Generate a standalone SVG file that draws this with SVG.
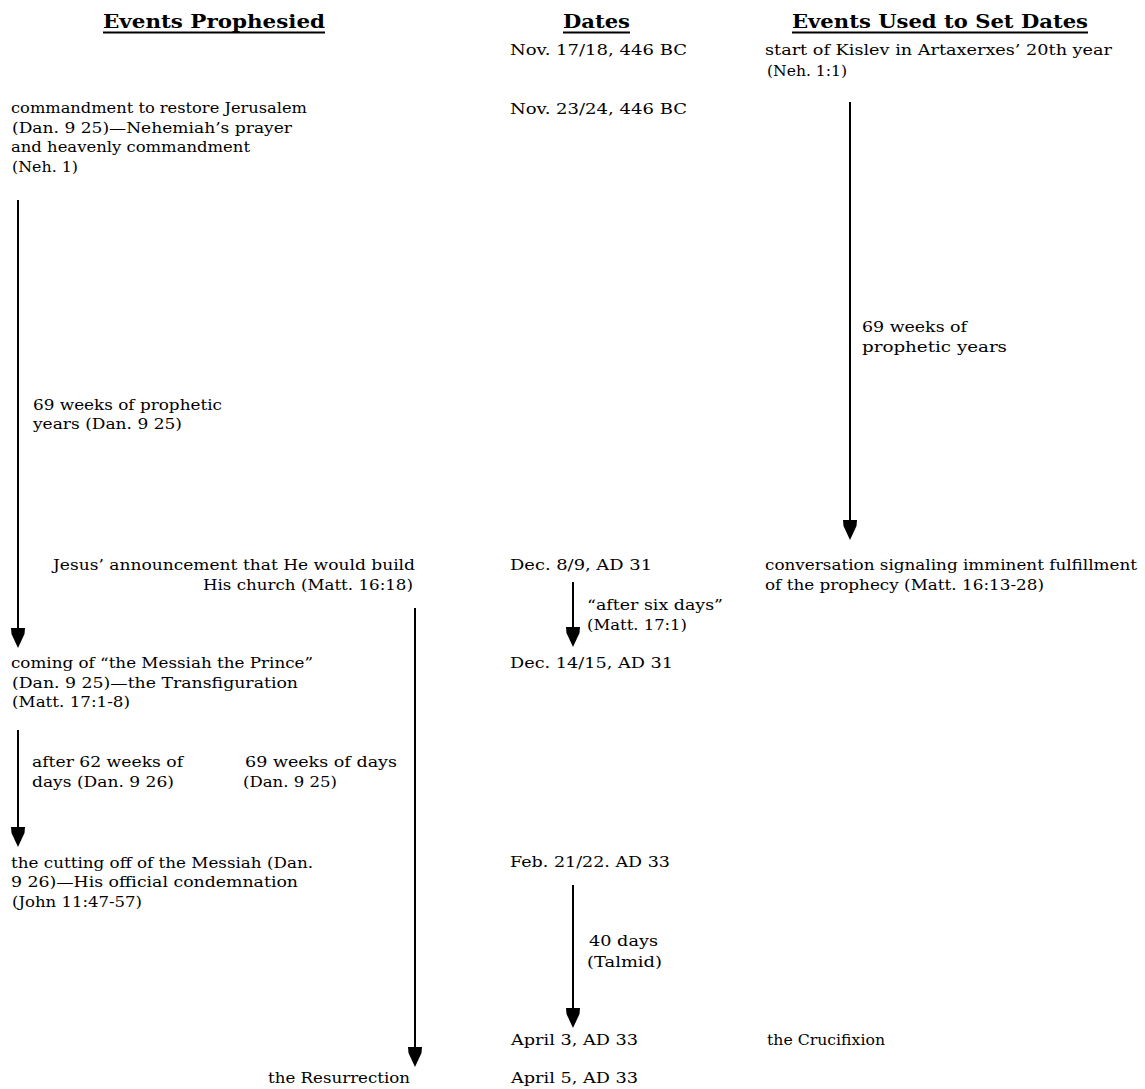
<svg xmlns="http://www.w3.org/2000/svg" width="1145" height="1089" viewBox="0 0 1145 1089">
<style>
text{font-family:"DejaVu Serif","Liberation Serif",serif;font-size:15px;fill:#000}
.h{font-weight:bold;font-size:19px}
.ul{stroke:#000;stroke-width:2}
.c{stroke:#000;stroke-width:2;fill:none;marker-end:url(#ah)}
</style>
<defs>
<marker id="ah" markerUnits="userSpaceOnUse" viewBox="0 -8 21 16" refX="10" refY="0" markerWidth="21" markerHeight="16" orient="auto">
<path d="M0,-7 L6,-6.5 L20,0 L6,6.5 L0,7 Z" fill="#000"/>
</marker>
</defs>
<rect width="1145" height="1089" fill="#fff"/>
<g id="headers">
<text class="h" x="103" y="28" textLength="222" lengthAdjust="spacingAndGlyphs">Events Prophesied</text>
<line class="ul" x1="103" y1="32.5" x2="325" y2="32.5"/>
<text class="h" x="563" y="28" textLength="67" lengthAdjust="spacingAndGlyphs">Dates</text>
<line class="ul" x1="563" y1="32.5" x2="630" y2="32.5"/>
<text class="h" x="792" y="28" textLength="296" lengthAdjust="spacingAndGlyphs">Events Used to Set Dates</text>
<line class="ul" x1="792" y1="32.5" x2="1088" y2="32.5"/>
</g>
<g id="connectors">
<line class="c" x1="18" y1="200" x2="18" y2="638"/>
<line class="c" x1="18" y1="730" x2="18" y2="837"/>
<line class="c" x1="415" y1="608" x2="415" y2="1057"/>
<line class="c" x1="573" y1="582" x2="573" y2="637"/>
<line class="c" x1="573" y1="885" x2="573" y2="1018"/>
<line class="c" x1="850" y1="102" x2="850" y2="530"/>
</g>
<g id="n-commandment">
<text x="11" y="113" textLength="296" lengthAdjust="spacingAndGlyphs">commandment to restore Jerusalem</text>
<text x="12" y="133" textLength="280" lengthAdjust="spacingAndGlyphs">(Dan. 9 25)—Nehemiah’s prayer</text>
<text x="11" y="152" textLength="239" lengthAdjust="spacingAndGlyphs">and heavenly commandment</text>
<text x="12" y="172" textLength="66" lengthAdjust="spacingAndGlyphs">(Neh. 1)</text>
</g>
<g id="l-69weeks-years">
<text x="33" y="410" textLength="189" lengthAdjust="spacingAndGlyphs">69 weeks of prophetic</text>
<text x="33" y="429" textLength="149" lengthAdjust="spacingAndGlyphs">years (Dan. 9 25)</text>
</g>
<g id="n-announcement">
<text x="53" y="570" textLength="362" lengthAdjust="spacingAndGlyphs">Jesus’ announcement that He would build</text>
<text x="203" y="590" textLength="210" lengthAdjust="spacingAndGlyphs">His church (Matt. 16:18)</text>
</g>
<g id="n-messiah">
<text x="11" y="668" textLength="302" lengthAdjust="spacingAndGlyphs">coming of “the Messiah the Prince”</text>
<text x="12" y="688" textLength="286" lengthAdjust="spacingAndGlyphs">(Dan. 9 25)—the Transfiguration</text>
<text x="12" y="707" textLength="118" lengthAdjust="spacingAndGlyphs">(Matt. 17:1-8)</text>
</g>
<g id="l-62weeks">
<text x="32" y="767" textLength="151" lengthAdjust="spacingAndGlyphs">after 62 weeks of</text>
<text x="32" y="787" textLength="142" lengthAdjust="spacingAndGlyphs">days (Dan. 9 26)</text>
</g>
<g id="l-69days">
<text x="245" y="767" textLength="152" lengthAdjust="spacingAndGlyphs">69 weeks of days</text>
<text x="243" y="787" textLength="94" lengthAdjust="spacingAndGlyphs">(Dan. 9 25)</text>
</g>
<g id="n-cutting-off">
<text x="11" y="868" textLength="302" lengthAdjust="spacingAndGlyphs">the cutting off of the Messiah (Dan.</text>
<text x="11" y="887" textLength="287" lengthAdjust="spacingAndGlyphs">9 26)—His official condemnation</text>
<text x="12" y="907" textLength="130" lengthAdjust="spacingAndGlyphs">(John 11:47-57)</text>
</g>
<g id="n-resurrection">
<text x="268" y="1083" textLength="142" lengthAdjust="spacingAndGlyphs">the Resurrection</text>
</g>
<g id="d-nov17">
<text x="510" y="55" textLength="177" lengthAdjust="spacingAndGlyphs">Nov. 17/18, 446 BC</text>
</g>
<g id="d-nov23">
<text x="510" y="114" textLength="177" lengthAdjust="spacingAndGlyphs">Nov. 23/24, 446 BC</text>
</g>
<g id="d-dec8">
<text x="510" y="570" textLength="142" lengthAdjust="spacingAndGlyphs">Dec. 8/9, AD 31</text>
</g>
<g id="l-sixdays">
<text x="587" y="610" textLength="136" lengthAdjust="spacingAndGlyphs">“after six days”</text>
<text x="587" y="630" textLength="100" lengthAdjust="spacingAndGlyphs">(Matt. 17:1)</text>
</g>
<g id="d-dec14">
<text x="510" y="668" textLength="163" lengthAdjust="spacingAndGlyphs">Dec. 14/15, AD 31</text>
</g>
<g id="d-feb21">
<text x="510" y="867" textLength="160" lengthAdjust="spacingAndGlyphs">Feb. 21/22. AD 33</text>
</g>
<g id="l-40days">
<text x="589" y="946" textLength="69" lengthAdjust="spacingAndGlyphs">40 days</text>
<text x="587" y="967" textLength="75" lengthAdjust="spacingAndGlyphs">(Talmid)</text>
</g>
<g id="d-apr3">
<text x="511" y="1045" textLength="127" lengthAdjust="spacingAndGlyphs">April 3, AD 33</text>
</g>
<g id="d-apr5">
<text x="511" y="1083" textLength="127" lengthAdjust="spacingAndGlyphs">April 5, AD 33</text>
</g>
<g id="e-kislev">
<text x="765" y="55" textLength="347" lengthAdjust="spacingAndGlyphs">start of Kislev in Artaxerxes’ 20th year</text>
<text x="767" y="76" textLength="80" lengthAdjust="spacingAndGlyphs">(Neh. 1:1)</text>
</g>
<g id="l-69weeks-right">
<text x="862" y="332" textLength="105" lengthAdjust="spacingAndGlyphs">69 weeks of</text>
<text x="862" y="352" textLength="145" lengthAdjust="spacingAndGlyphs">prophetic years</text>
</g>
<g id="e-conversation">
<text x="765" y="570" textLength="372" lengthAdjust="spacingAndGlyphs">conversation signaling imminent fulfillment</text>
<text x="765" y="590" textLength="279" lengthAdjust="spacingAndGlyphs">of the prophecy (Matt. 16:13-28)</text>
</g>
<g id="e-crucifixion">
<text x="767" y="1045" textLength="118" lengthAdjust="spacingAndGlyphs">the Crucifixion</text>
</g>
</svg>
